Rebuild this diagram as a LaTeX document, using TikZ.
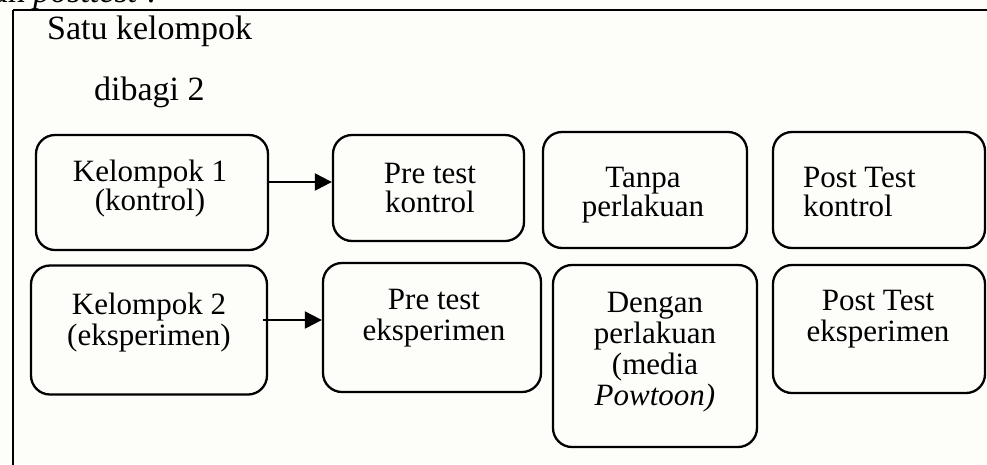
\documentclass[tikz,border=0pt]{standalone}
\usepackage{fontspec}
\setmainfont{Liberation Serif}
\usetikzlibrary{arrows.meta}
\definecolor{bgpaper}{RGB}{253,253,250}
\tikzset{
  stepbox/.style={draw=black, line width=2.3pt, rounded corners=19pt, inner sep=0pt},
  boxtext/.style={inner sep=0pt, align=center, font=\fontsize{31pt}{29pt}\selectfont},
  boxtexttwo/.style={inner sep=0pt, align=center, font=\fontsize{31pt}{31pt}\selectfont},
  toptext/.style={inner sep=0pt, anchor=base west, font=\fontsize{34pt}{36pt}\selectfont},
  arr/.style={line width=2.2pt, -{Triangle[length=17pt,width=17pt]}}
}
\begin{document}
\begin{tikzpicture}[x=1pt, y=-1pt]
\useasboundingbox (0,0) rectangle (987,464);
\clip (0,0) rectangle (987,464);
\fill[bgpaper] (0,0) rectangle (987,464);
% cut-off text above the frame
\node[toptext, anchor=base east] (cut) at (156,2.5) {dan \textit{posttest} :};
% outer frame (continues past the right and bottom edges)
\draw[line width=2.2pt] (13,10) -- (1010,10);
\draw[line width=2.2pt] (13,10) -- (13,480);
% heading texts
\node[toptext] (satu) at (47,39) {Satu kelompok};
\node[toptext] (dibagi) at (94,100) {dibagi 2};
% row 1 boxes
\node[stepbox, minimum width=232pt, minimum height=115pt] (k1) at (152,192.5) {};
\node[stepbox, minimum width=191pt, minimum height=106pt] (pk) at (428.5,188) {};
\node[stepbox, minimum width=204pt, minimum height=116pt] (tk) at (645,190) {};
\node[stepbox, minimum width=212pt, minimum height=116pt] (qk) at (879,190) {};
% row 2 boxes
\node[stepbox, minimum width=236pt, minimum height=129pt] (k2) at (149,330) {};
\node[stepbox, minimum width=218pt, minimum height=129pt] (pe) at (432,327.5) {};
\node[stepbox, minimum width=204pt, minimum height=182pt] (de) at (655,356) {};
\node[stepbox, minimum width=212pt, minimum height=128pt] (qe) at (879,329) {};
% texts
\node[boxtext] (k1t) at (150,189) {Kelompok 1\\(kontrol)};
\node[boxtext] (pkt) at (430,188) {Pre test\\kontrol};
\node[boxtext] (tkt) at (643,195.5) {Tanpa\\perlakuan};
\node[boxtext, anchor=west, align=left] (qkt) at (803,192) {Post Test\\kontrol};
\node[boxtexttwo] (k2t) at (149,322.5) {Kelompok 2\\(eksperimen)};
\node[boxtexttwo] (pet) at (434,318.2) {Pre test\\eksperimen};
\node[boxtexttwo] (det) at (655,352.5) {Dengan\\perlakuan\\(media\\\textit{Powtoon)}};
\node[boxtexttwo] (qet) at (878,319.2) {Post Test\\eksperimen};
% connectors
\coordinate (a1) at (268,182);
\coordinate (a2) at (263,320);
\draw[arr] (a1) -- (a1 -| pk.west);
\draw[arr] (a2) -- (a2 -| pe.west);
\end{tikzpicture}
\end{document}
